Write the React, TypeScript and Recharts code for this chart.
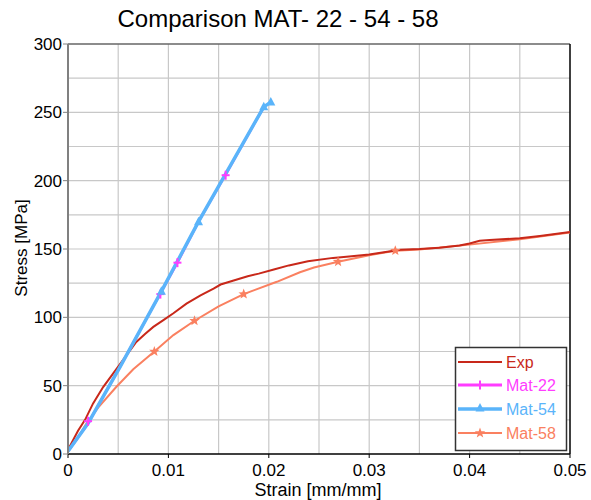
import React from "react";
import {
  ComposedChart,
  Line,
  Scatter,
  XAxis,
  YAxis,
  CartesianGrid,
  ReferenceLine,
} from "recharts";

// values
const expStrain = [0, 0.0005, 0.001, 0.0017, 0.0025, 0.0035, 0.005, 0.006, 0.0068, 0.0077, 0.0085, 0.0095, 0.0105, 0.0118, 0.0132, 0.0145, 0.0152, 0.0165, 0.0179, 0.019, 0.0205, 0.022, 0.0239, 0.0264, 0.028, 0.03, 0.0331, 0.035, 0.037, 0.039, 0.04, 0.041, 0.042, 0.045, 0.047, 0.0485, 0.05];
const expStress = [3, 10, 17, 25, 37, 49, 64, 74, 82, 88, 93, 98, 103, 110, 116, 121, 124, 127, 130, 132, 135, 138, 141, 143.5, 144.5, 146, 149.5, 150, 151, 152.5, 154, 156, 156.6, 157.8, 159.5, 161, 162.5];

const mat22Strain = [0, 0.002, 0.0035, 0.0052, 0.0092, 0.0109, 0.013, 0.0157, 0.0195];
const mat22Stress = [2, 22.5, 42, 64, 117.5, 140, 170, 204.5, 254];
const mat22MarkStrain = [0.002, 0.0092, 0.0109, 0.0157];
const mat22MarkStress = [24, 117, 140, 204];

const mat54Strain = [0, 0.002, 0.0035, 0.0052, 0.0093, 0.013, 0.0195, 0.0202];
const mat54Stress = [2, 22.5, 42, 64, 119, 170, 254, 257.5];
const mat54MarkStrain = [0.0093, 0.013, 0.0195, 0.0202];
const mat54MarkStress = [119, 170, 254, 257.5];

const mat58Strain = [0, 0.001, 0.0018, 0.003, 0.0048, 0.0065, 0.0086, 0.0105, 0.0126, 0.015, 0.0175, 0.0208, 0.0231, 0.0245, 0.0269, 0.03, 0.0326, 0.035, 0.04, 0.045, 0.05];
const mat58Stress = [2, 12, 22, 34, 49, 62, 75, 87, 97.5, 108, 117, 126, 133, 136.5, 140.7, 145.5, 148.8, 149.6, 153.2, 157.2, 162];
const mat58MarkStrain = [0.0086, 0.0126, 0.0175, 0.0269, 0.0326];
const mat58MarkStress = [75, 97.5, 117, 140.7, 148.8];

const xTicks = [0, 0.01, 0.02, 0.03, 0.04, 0.05];
const yTicks = [0, 50, 100, 150, 200, 250, 300];
const xGrid = [0.005, 0.01, 0.015, 0.02, 0.025, 0.03, 0.035, 0.04, 0.045];
const yGrid = [25, 50, 75, 100, 125, 150, 175, 200, 225, 250, 275];

const toPoints = (xs: number[], ys: number[]) => xs.map((x, i) => ({ x, y: ys[i] }));

const C_EXP = "#c8281a";
const C_22 = "#ff3cff";
const C_54 = "#5ab4fa";
const C_58 = "#fa8060";
const FONT = "'Liberation Sans', Arial, sans-serif";

function plus(cx: number, cy: number, color: string) {
  return (
    <g>
      <line x1={cx - 4} y1={cy} x2={cx + 4} y2={cy} stroke={color} strokeWidth={2} />
      <line x1={cx} y1={cy - 4.5} x2={cx} y2={cy + 4.5} stroke={color} strokeWidth={2} />
    </g>
  );
}

function triangle(cx: number, cy: number, color: string) {
  return <path d={`M${cx},${cy - 5} L${cx + 4.5},${cy + 3.5} L${cx - 4.5},${cy + 3.5} Z`} fill={color} />;
}

function star(cx: number, cy: number, color: string) {
  const pts: string[] = [];
  for (let i = 0; i < 10; i++) {
    const r = i % 2 === 0 ? 5.5 : 2.3;
    const a = (Math.PI / 5) * i - Math.PI / 2;
    pts.push(`${cx + r * Math.cos(a)},${cy + r * Math.sin(a)}`);
  }
  return <polygon points={pts.join(" ")} fill={color} />;
}

export default function App() {
  const tickStyle = { fontSize: 17, fill: "#000", fontFamily: FONT };
  return (
    <div style={{ position: "absolute", left: 0, top: 0, width: 591, height: 500 }}>
      <ComposedChart width={591} height={500} margin={{ top: 44, right: 21, bottom: 0, left: 0 }}>
        <CartesianGrid stroke="#c8c8c8" strokeWidth={1.2} verticalValues={xGrid} horizontalValues={yGrid} />
        <XAxis
          type="number"
          dataKey="x"
          domain={[0, 0.05]}
          ticks={xTicks}
          tickFormatter={(v: number) => (v === 0 ? "0" : v.toFixed(2))}
          height={46}
          tick={tickStyle}
          tickSize={4}
          tickMargin={6}
          axisLine={{ stroke: "#000", strokeWidth: 1.5 }}
          tickLine={{ stroke: "#000" }}
          allowDataOverflow
        />
        <YAxis
          type="number"
          dataKey="y"
          domain={[0, 300]}
          ticks={yTicks}
          width={68}
          tick={tickStyle}
          tickSize={5}
          tickMargin={1}
          axisLine={{ stroke: "#808080", strokeWidth: 2 }}
          tickLine={{ stroke: "#808080" }}
          allowDataOverflow
        />
        <ReferenceLine y={300} stroke="#666" strokeWidth={1.5} />
        <ReferenceLine x={0.05} stroke="#000" strokeWidth={1.5} />
        <Line data={toPoints(mat58Strain, mat58Stress)} dataKey="y" type="linear" stroke={C_58} strokeWidth={2} dot={false} activeDot={false} isAnimationActive={false} />
        <Line data={toPoints(expStrain, expStress)} dataKey="y" type="linear" stroke={C_EXP} strokeWidth={2} dot={false} activeDot={false} isAnimationActive={false} />
        <Line data={toPoints(mat22Strain, mat22Stress)} dataKey="y" type="linear" stroke={C_22} strokeWidth={2.5} dot={false} activeDot={false} isAnimationActive={false} />
        <Scatter data={toPoints(mat22MarkStrain, mat22MarkStress)} isAnimationActive={false} shape={(p: any) => plus(p.cx, p.cy, C_22)} />
        <Line data={toPoints(mat54Strain, mat54Stress)} dataKey="y" type="linear" stroke={C_54} strokeWidth={3.5} dot={false} activeDot={false} isAnimationActive={false} />
        <Scatter data={toPoints(mat54MarkStrain, mat54MarkStress)} isAnimationActive={false} shape={(p: any) => triangle(p.cx, p.cy, C_54)} />
        <Scatter data={toPoints(mat58MarkStrain, mat58MarkStress)} isAnimationActive={false} shape={(p: any) => star(p.cx, p.cy, C_58)} />
      </ComposedChart>
      <svg width={591} height={500} style={{ position: "absolute", left: 0, top: 0, pointerEvents: "none" }} fontFamily={FONT}>
        <text x={278} y={27} textAnchor="middle" fontSize={24} fill="#000">
          Comparison MAT- 22 - 54 - 58
        </text>
        <text x={27} y={248} textAnchor="middle" fontSize={17} fill="#000" transform="rotate(-90 27 248)">
          Stress [MPa]
        </text>
        <text x={318} y={496} textAnchor="middle" fontSize={18} fill="#000">
          Strain [mm/mm]
        </text>
        <rect x={455.5} y={347.5} width={111} height={103} fill="#fff" stroke="#333" strokeWidth={1.5} />
        <line x1={458} y1={362} x2={502} y2={362} stroke={C_EXP} strokeWidth={2} />
        <text x={506} y={368} fontSize={16} fill={C_EXP}>Exp</text>
        <line x1={458} y1={385} x2={502} y2={385} stroke={C_22} strokeWidth={3} />
        {plus(480, 385, C_22)}
        <text x={506} y={391} fontSize={16} fill={C_22}>Mat-22</text>
        <line x1={458} y1={409} x2={502} y2={409} stroke={C_54} strokeWidth={3.5} />
        {triangle(480, 408, C_54)}
        <text x={506} y={415} fontSize={16} fill={C_54}>Mat-54</text>
        <line x1={458} y1={433} x2={502} y2={433} stroke={C_58} strokeWidth={2} />
        {star(480, 433, C_58)}
        <text x={506} y={439} fontSize={16} fill={C_58}>Mat-58</text>
      </svg>
    </div>
  );
}
